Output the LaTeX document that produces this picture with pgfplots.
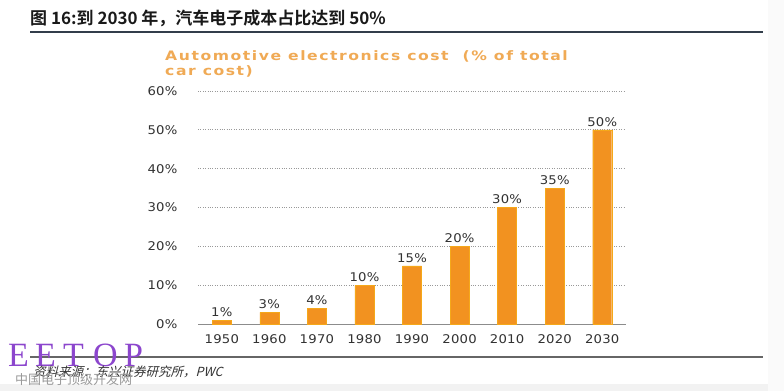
\documentclass[border=0pt]{standalone}
\usepackage{pgfplots}
\pgfplotsset{compat=1.18}
\usepackage{fontspec}
\setmainfont{DejaVu Sans}
\newfontfamily\cjk{Noto Sans CJK SC}
\newfontfamily\cjkb{Noto Sans CJK SC Bold}
\newfontfamily\cjkit{Noto Sans CJK SC}[FakeSlant=0.25]
\newfontfamily\wm{Liberation Serif}
\newfontfamily\chtitle{DejaVu Sans Bold}[FakeStretch=1.2,LetterSpace=12]
\newfontfamily\tickfont{DejaVu Sans}[FakeStretch=1.1,LetterSpace=2]
\definecolor{barorange}{RGB}{242,146,32}
\definecolor{titleorange}{RGB}{240,170,85}
\definecolor{txtgray}{RGB}{50,50,50}
\definecolor{rulecol}{RGB}{50,62,75}
\definecolor{wmpurple}{RGB}{140,70,205}
\begin{document}
\begin{tikzpicture}[x=1bp,y=1bp]
\useasboundingbox (0,0) rectangle (784,391);
\fill[white] (0,0) rectangle (784,391);
\fill[black!5] (0,0) rectangle (784,7);
\fill[black!2] (768,0) rectangle (784,391);
% header
\node[anchor=west,inner sep=0,text=black!90] at (30,373) {\cjkb\fontsize{17bp}{20bp}\selectfont 图 16:到 2030 年，汽车电子成本占比达到 50\%};
\draw[rulecol,line width=1.6bp] (30,359) -- (763,359);
% chart title
\node[anchor=north west,inner sep=0,align=left,text=titleorange,
  font=\chtitle\fontsize{13bp}{15.5bp}\selectfont] at (165,341)
  {Automotive electronics cost\ \ (\% of total\\car cost)};
\begin{axis}[
  at={(198bp,67bp)}, anchor=south west,
  width=428bp, height=233bp, scale only axis,
  xmin=-0.5, xmax=8.5, ymin=0, ymax=60,
  axis x line=bottom, axis y line=left,
  axis line style={draw=black!45, line width=0.6bp, -},
  y axis line style={draw=none},
  xtick={0,...,8},
  xticklabels={1950,1960,1970,1980,1990,2000,2010,2020,2030},
  xtick style={draw=none},
  extra x ticks={-0.5,0.5,...,8.5},
  extra x tick labels={},
  extra x tick style={tick style={draw=black!45, line width=0.6bp}, major tick length=3bp, tick align=outside, grid=none},
  ytick={0,10,...,60},
  ytick style={draw=none},
  yticklabel={\pgfmathprintnumber[assume math mode=true]{\tick}\%},
  yticklabel style={xshift=-15bp, font=\tickfont\fontsize{12bp}{14bp}\selectfont, text=txtgray},
  xticklabel style={yshift=-3bp, font=\tickfont\fontsize{12bp}{14bp}\selectfont, text=txtgray},
  ymajorgrids,
  grid style={draw=black!40, dotted, line width=0.7bp},
  ybar, bar width=19bp,
  nodes near coords={\pgfmathprintnumber[assume math mode=true]{\pgfplotspointmeta}\%},
  every node near coord/.append style={font=\tickfont\fontsize{12bp}{14bp}\selectfont, text=txtgray},
  clip=false,
]
\addplot[fill=barorange, draw=barorange!80!yellow, line width=0.4bp] coordinates {
(0,1) (1,3) (2,4) (3,10) (4,15) (5,20) (6,30) (7,35) (8,50)};
\end{axis}
% footer
\draw[black!60,line width=1.3bp] (30,34) -- (763,34);
\foreach \l/\x in {E/8,E/35,T/63,O/93,P/124}{
  \node[anchor=base west,inner sep=0,text=wmpurple] at (\x,25) {\wm\fontsize{34bp}{36bp}\selectfont\l};
}
\node[anchor=west,inner sep=0,text=txtgray] at (33,19) {\cjkit\fontsize{12.5bp}{14bp}\selectfont 资料来源：东兴证券研究所，PWC};
\node[anchor=west,inner sep=0,text=black!40] at (15,11) {\cjk\fontsize{13bp}{15bp}\selectfont 中国电子顶级开发网};
\end{tikzpicture}
\end{document}
